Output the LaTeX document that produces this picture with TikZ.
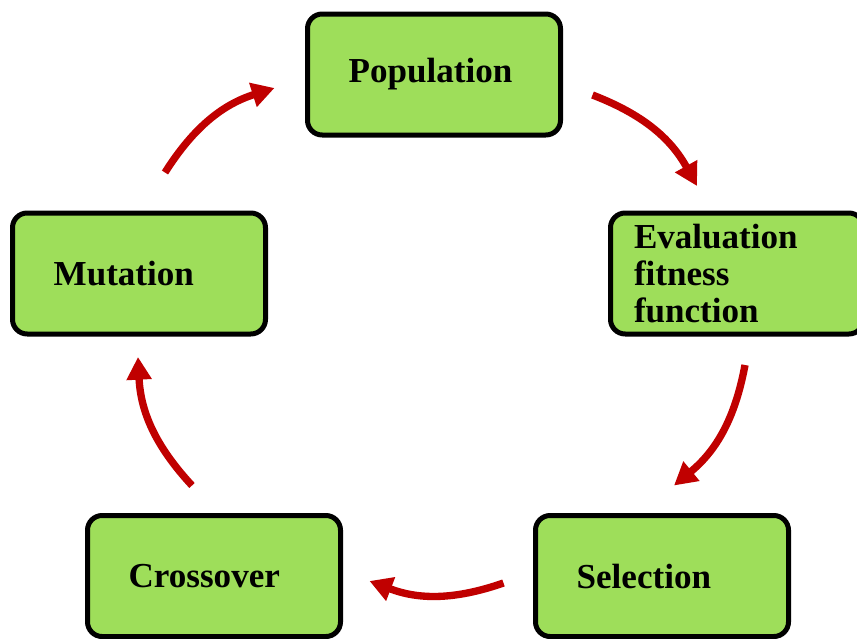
\documentclass[tikz,border=0pt]{standalone}
\usepackage{fontspec}
\setmainfont{Liberation Serif}
\usepackage{tikz}
\usetikzlibrary{arrows.meta}
\definecolor{boxgreen}{RGB}{158, 222, 90}
\definecolor{arrowred}{RGB}{192, 0, 0}

\begin{document}
\begin{tikzpicture}[
    x=0.75pt, y=-0.75pt,
    box/.style={draw, line width=3.75pt, rounded corners=11pt, fill=boxgreen, minimum width=189.75pt, minimum height=90.75pt, text width=128pt, align=left, font=\fontsize{26.3}{28}\selectfont\bfseries},
    flow/.style={draw=arrowred, line width=5.5pt, -{Triangle[length=17pt, width=18pt]}, bend left=20}
]
    \useasboundingbox (0,0) rectangle (857,639);
    \node[box] (pop) at (434,74.5) {Population};
    \node[box, text width=154.5pt] (eval) at (737,273.5) {Evaluation\\fitness\\function};
    \node[box] (sel) at (662,576) {Selection};
    \node[box] (cross) at (214,576) {Crossover};
    \node[box] (mut) at (139,273.5) {Mutation};

    \draw[flow] ([shift={(26,-38)}]mut.north) to ([shift={(-30.5,13.5)}]pop.west);
    \draw[flow] ([shift={(29.5,20.5)}]pop.east) to ([shift={(-40,-24.5)}]eval.north);
    \draw[flow] ([shift={(8,28.5)}]eval.south) to ([shift={(12,-27.5)}]sel.north);
    \draw[flow] ([shift={(-29.5,7)}]sel.west) to ([shift={(26.5,5)}]cross.east);
    \draw[flow] ([shift={(-22,-27.5)}]cross.north) to ([shift={(-1,20.5)}]mut.south);
\end{tikzpicture}
\end{document}
